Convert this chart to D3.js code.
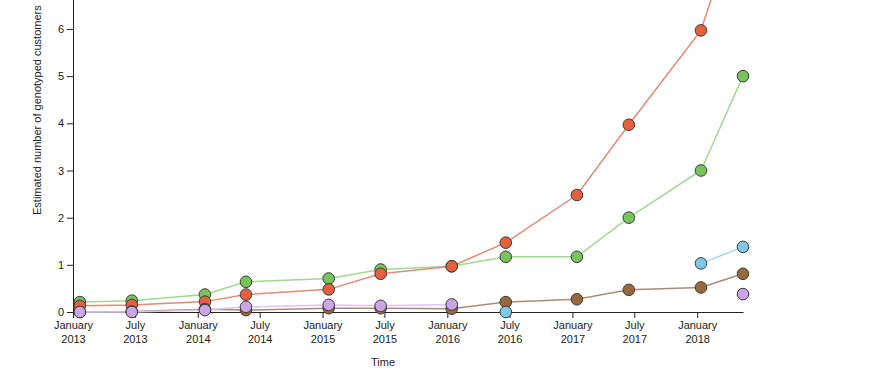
<!DOCTYPE html>
<html>
<head>
<meta charset="utf-8">
<script src="https://cdn.jsdelivr.net/npm/d3@7"></script>
<style>
  html, body { margin: 0; padding: 0; background: #fff; }
  svg { display: block; font-family: "Liberation Sans", Arial, sans-serif; }
  .axis text { font-size: 11px; fill: #222; }
  .axis path, .axis line { stroke: #222; }
</style>
</head>
<body>
<svg id="chart" width="895" height="380"></svg>
<script>
// Sample dates (observation points)
const dates = ["2013-01-21","2013-06-22","2014-01-22","2014-05-22","2015-01-19","2015-06-20",
               "2016-01-14","2016-06-20","2017-01-14","2017-06-15","2018-01-12","2018-05-15"];
// Series values (millions), null = no observation
const seriesGreen  = [0.21, 0.24, 0.37, 0.64, 0.71, 0.90, 0.97, 1.17, 1.17, 2.0, 3.0, 5.0];
const seriesRed    = [0.13, 0.15, 0.22, 0.37, 0.48, 0.81, 0.97, 1.47, 2.48, 3.97, 5.97, 8.7];
const seriesBrown  = [0.0, 0.01, 0.06, 0.04, 0.08, 0.08, 0.07, 0.21, 0.27, 0.47, 0.52, 0.81];
const seriesBlue   = [null, null, null, null, null, null, null, 0.0, null, null, 1.03, 1.38];
const seriesPurple = [0.0, 0.0, 0.04, 0.11, 0.15, 0.13, 0.16, null, null, null, null, 0.38];
const yTicks = [0, 1, 2, 3, 4, 5, 6];

const series = [
  { values: seriesGreen,  fill: "#79c35c", line: "#a3d893" },
  { values: seriesRed,    fill: "#e4603e", line: "#e08a78" },
  { values: seriesBrown,  fill: "#98693f", line: "#a88c7a" },
  { values: seriesBlue,   fill: "#7fc8e8", line: "#a5d6e8" },
  { values: seriesPurple, fill: "#caa6e6", line: "#dcc6ee" }
];

const svg = d3.select("#chart");
const parse = d3.timeParse("%Y-%m-%d");
const x = d3.scaleTime()
  .domain([parse("2013-01-01"), parse("2018-05-15")])
  .range([73, 743]);
const y = d3.scaleLinear().domain([0, 9]).range([312, 312 - 9 * 47.17]);

// Axes
const xAxis = svg.append("g").attr("class", "axis")
  .attr("transform", "translate(0,312)")
  .call(d3.axisBottom(x).ticks(d3.timeMonth.every(6)).tickSizeOuter(0).tickFormat(() => ""));
xAxis.selectAll(".tick").each(function(d) {
  const t = d3.select(this).select("text");
  t.text(null);
  t.append("tspan").attr("x", 0).attr("dy", "0.71em").text(d3.timeFormat("%B")(d));
  t.append("tspan").attr("x", 0).attr("dy", "1.3em").text(d3.timeFormat("%Y")(d));
});

svg.append("g").attr("class", "axis")
  .attr("transform", "translate(73,0)")
  .call(d3.axisLeft(y).tickValues(yTicks).tickFormat(d3.format("d")).tickSizeOuter(0));

// Axis titles
svg.append("text")
  .attr("transform", "rotate(-90)")
  .attr("x", -215).attr("y", 40.5)
  .attr("text-anchor", "start")
  .style("font-size", "11px").style("fill", "#222")
  .text("Estimated number of genotyped customers");

svg.append("text")
  .attr("x", 383).attr("y", 366)
  .attr("text-anchor", "middle")
  .style("font-size", "11px").style("fill", "#222")
  .text("Time");

// Lines
const line = d3.line()
  .defined(d => d.v !== null)
  .x(d => x(d.date))
  .y(d => y(d.v));

series.forEach(s => {
  const pts = s.values.map((v, i) => ({ date: parse(dates[i]), v }));
  svg.append("path")
    .datum(pts)
    .attr("fill", "none")
    .attr("stroke", s.line)
    .attr("stroke-width", 1.5)
    .attr("d", line);
});

// Points
series.forEach(s => {
  const pts = s.values.map((v, i) => ({ date: parse(dates[i]), v })).filter(d => d.v !== null);
  svg.append("g").selectAll("circle")
    .data(pts)
    .join("circle")
    .attr("cx", d => x(d.date))
    .attr("cy", d => y(d.v))
    .attr("r", 5.8)
    .attr("fill", s.fill)
    .attr("stroke", "#3a3a3a")
    .attr("stroke-width", 1);
});
</script>
</body>
</html>
